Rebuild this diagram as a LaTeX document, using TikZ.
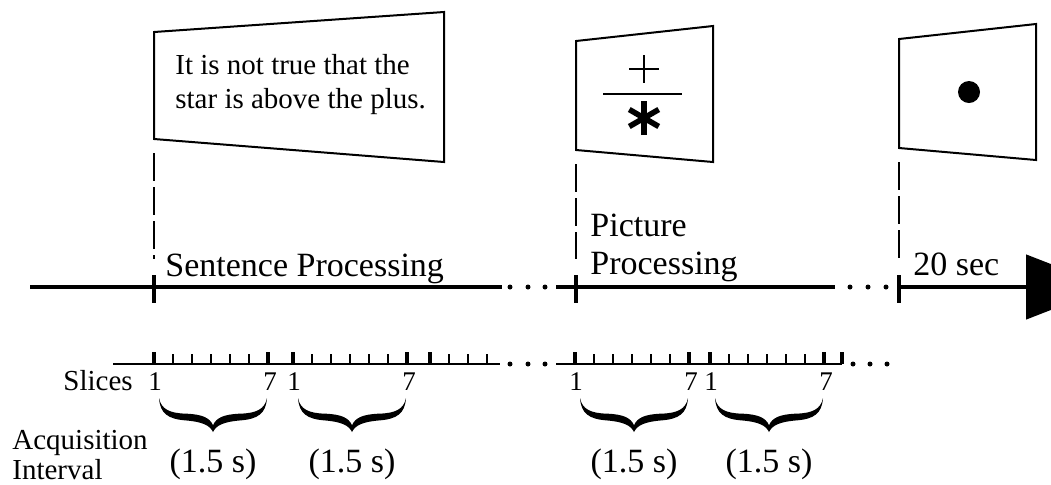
\documentclass[tikz,border=0pt]{standalone}
\usepackage{fontspec}
\setmainfont{Liberation Serif}
\usetikzlibrary{arrows.meta}
\newcommand{\drawscreen}[7]{\draw[screen] (#2,#3) -- (#5,#6) -- (#5,#7) -- (#2,#4) coordinate (#1) -- cycle;}
\newcommand{\acqbrace}[2]{\fill[shift={(#1,398)},xscale={(#2)-(#1)},yscale=34]
  (0,0) .. controls (0.01,0.45) and (0.08,0.62) .. (0.25,0.66) .. controls (0.40,0.70) and (0.47,0.80) .. (0.5,1)
  .. controls (0.53,0.80) and (0.60,0.70) .. (0.75,0.66) .. controls (0.92,0.62) and (0.99,0.45) .. (1,0)
  .. controls (0.98,0.33) and (0.90,0.45) .. (0.75,0.46) .. controls (0.60,0.48) and (0.53,0.58) .. (0.5,0.80)
  .. controls (0.47,0.58) and (0.40,0.48) .. (0.25,0.46) .. controls (0.10,0.45) and (0.02,0.33) .. (0,0) -- cycle;}

\begin{document}
\begin{tikzpicture}[x=0.5pt,y=-0.5pt,
  every node/.style={inner sep=0pt,anchor=base west},
  screen/.style={line width=1pt,line join=miter},
  cue/.style={line width=0.8pt,dash pattern=on 14pt off 3pt,shorten <=7pt,shorten >=14pt},
  axis/.style={line width=2.4pt},
  bartick/.style={line width=2.2pt},
  slicetick/.style={line width=0.8pt},
  slicemain/.style={line width=1.8pt},
  bigtxt/.style={font=\fontsize{17}{20}\selectfont},
  midtxt/.style={font=\fontsize{14.5}{17}\selectfont},
  smalltxt/.style={font=\fontsize{13.5}{16}\selectfont,anchor=base}]
\useasboundingbox (0,0) rectangle (1051,484);
\drawscreen{scrA}{154}{32}{139}{444}{12}{162}
\drawscreen{scrB}{576}{41}{150}{713}{26}{162}
\drawscreen{scrC}{899}{39}{148}{1036}{24}{160}
\node[midtxt] (sentA) at (175,74) {It is not true that the};
\node[midtxt] (sentB) at (175,108) {star is above the plus.};
\draw[line width=1pt] (629,69) -- (659,69) (644,55) -- (644,83);
\draw[line width=1pt] (603,94) -- (682,94);
\foreach \a in {90,30,150}
  \draw[line width=2.8pt] (644,118) ++(\a:17) -- ++(\a+180:34);
\fill (969,92) circle[radius=11];
\coordinate (tA) at (154,287);
\coordinate (tB) at (576,287);
\coordinate (tC) at (899,287);
\draw[axis] (30,287) -- (502,287);
\draw[axis] (556,287) -- (835,287);
\draw[axis,-{Triangle[length=42pt,width=32pt]}] (tC) -- (1110,287);
\foreach \t in {tA,tB,tC}{
  \draw[bartick] ([yshift=6pt]\t) -- ([yshift=-8pt]\t);
}
\draw[cue] (scrA) -- (tA);
\draw[cue] (scrB) -- (tB);
\draw[cue] (scrC) -- (tC);
\foreach \d in {510,528,545,850,868,886}
  \fill (\d,287) circle[radius=2.5];
\node[bigtxt] (sentproc) at (165,276) {Sentence Processing};
\node[bigtxt] (picA) at (590,236) {Picture};
\node[bigtxt] (picB) at (590,274) {Processing};
\node[bigtxt] (rest) at (913,275) {20 sec};
\draw[line width=1.3pt] (113,364) -- (500,364);
\draw[line width=1.3pt] (556,364) -- (842,364);
\foreach \d in {510,528,545,853,870,887}
  \fill (\d,364) circle[radius=2.5];
\foreach \s/\n in {154/6,293/6,430/4,575/6,710/6}
  \foreach \k in {2,...,\n}
    \draw[slicetick] ({\s+19*(\k-1)},354) -- ++(0,10);
\foreach \s in {154,268,293,407,430,575,689,710,824,842}
  \draw[slicemain] (\s,352) -- ++(0,12);
\node[midtxt] (slices) at (63,390) {Slices};
\foreach \s [count=\g] in {154,293,575,710}{
  \node[smalltxt] (first\g) at (\s+1,390) {1};
  \node[smalltxt] (last\g) at (\s+116,390) {7};
  \acqbrace{\s+5}{\s+113}
  \node[bigtxt,anchor=base] (dur\g) at (\s+59,472) {(1.5 s)};
}
\node[midtxt] (acq) at (12,449) {Acquisition};
\node[midtxt] (intv) at (12,479) {Interval};
\end{tikzpicture}
\end{document}
